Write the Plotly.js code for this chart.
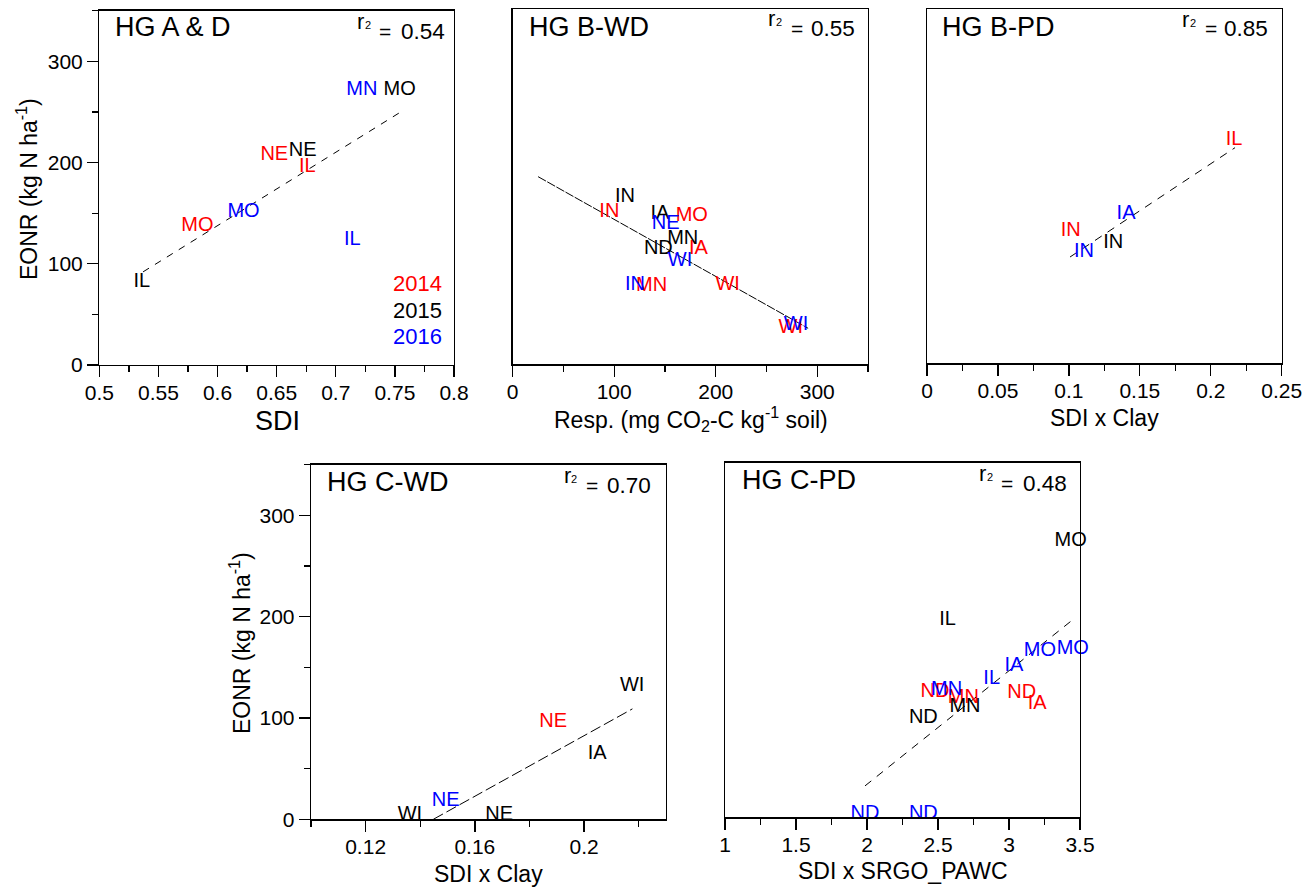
<!DOCTYPE html>
<html>
<head>
<meta charset="utf-8">
<script src="https://cdn.plot.ly/plotly-3.0.1.min.js"></script>
<style>
  html, body { margin: 0; padding: 0; background: #ffffff; }
  #chart { width: 1308px; height: 888px; }
</style>
</head>
<body>
<div id="chart"></div>
<script>
// ---- HG A & D : EONR vs SDI ----
const adLabels = ['IL', 'MO', 'MO', 'NE', 'NE', 'IL', 'MN', 'MO', 'IL'];
const adYears  = [2015, 2014, 2016, 2014, 2015, 2014, 2016, 2015, 2016];
const adSDI    = [0.536, 0.583, 0.622, 0.648, 0.672, 0.676, 0.722, 0.754, 0.714];
const adEONR   = [82, 137, 151, 207, 211, 196, 272, 272, 123];
const adFitX   = [0.537, 0.755];
const adFitY   = [92, 250];

// ---- HG B-WD : EONR vs soil respiration ----
const bwdLabels = ['IN', 'IN', 'IA', 'MO', 'NE', 'MN', 'ND', 'IA', 'WI', 'IN', 'MN', 'WI', 'WI', 'WI'];
const bwdYears  = [2015, 2014, 2015, 2014, 2016, 2015, 2015, 2014, 2016, 2016, 2014, 2014, 2014, 2016];
const bwdResp   = [110.6, 95.2, 145.1, 176.4, 150.7, 167.5, 143.5, 182.9, 164.8, 120.5, 136.9, 211.8, 273.9, 279.1];
const bwdEONR   = [165, 150, 148, 146, 138, 124, 114, 114, 102, 78, 77, 78, 36, 39];
const bwdFitX   = [25, 291];
const bwdFitY   = [185, 35.5];

// ---- HG B-PD : EONR vs SDI x Clay ----
const bpdLabels = ['IL', 'IA', 'IN', 'IN', 'IN'];
const bpdYears  = [2014, 2016, 2014, 2015, 2016];
const bpdSDIxClay = [0.2164, 0.1403, 0.1013, 0.1313, 0.1107];
const bpdEONR   = [221, 147, 131, 118.5, 110];
const bpdFitX   = [0.1008, 0.2171];
const bpdFitY   = [105, 213];

// ---- HG C-WD : EONR vs SDI x Clay ----
const cwdLabels = ['WI', 'NE', 'IA', 'NE', 'WI', 'NE'];
const cwdYears  = [2015, 2014, 2015, 2016, 2015, 2015];
const cwdSDIxClay = [0.2176, 0.1887, 0.2048, 0.1493, 0.1362, 0.1689];
const cwdEONR   = [132, 96, 64, 18, 4, 4];
const cwdFitX   = [0.1448, 0.2177];
const cwdFitY   = [0, 109];

// ---- HG C-PD : EONR vs SDI x SRGO_PAWC ----
const cpdLabels = ['MO', 'IL', 'MO', 'MO', 'IA', 'IL', 'ND', 'IA', 'ND', 'MN', 'MN', 'MN', 'ND', 'ND', 'ND'];
const cpdYears  = [2015, 2015, 2016, 2016, 2016, 2016, 2014, 2014, 2014, 2016, 2014, 2015, 2015, 2016, 2016];
const cpdSDIxPAWC = [3.434, 2.568, 3.449, 3.218, 3.035, 2.878, 3.089, 3.199, 2.479, 2.561, 2.678, 2.69, 2.397, 1.986, 2.397];
const cpdEONR   = [273, 195, 166, 164, 149, 136, 123, 112, 124, 126, 117.5, 109, 98, 3, 3];
const cpdFitX   = [1.986, 3.449];
const cpdFitY   = [31, 195];

// ---- panel text ----
const panelNames = ['HG A & D', 'HG B-WD', 'HG B-PD', 'HG C-WD', 'HG C-PD'];
const r2Values   = ['0.54', '0.55', '0.85', '0.70', '0.48'];
const yearList   = [2014, 2015, 2016];

// ---- styling ----
const W = 1308, H = 888;
const FONT = 'Liberation Sans, Arial, Helvetica, sans-serif';
const yearColor = { 2014: '#ff0000', 2015: '#000000', 2016: '#0000ff' };
const px = v => v / W;
const py = v => 1 - v / H;

// state-abbreviation labels, one trace per year
function labelTraces(axN, labels, xs, ys, years) {
  const sfx = axN === 1 ? '' : String(axN);
  return yearList.map(yr => {
    const idx = years.map((y, i) => (y === yr ? i : -1)).filter(i => i >= 0);
    return {
      type: 'scatter', mode: 'text',
      x: idx.map(i => xs[i]), y: idx.map(i => ys[i]), text: idx.map(i => labels[i]),
      textposition: 'middle center',
      textfont: { family: FONT, size: 20, color: yearColor[yr] },
      cliponaxis: false, hoverinfo: 'skip', showlegend: false,
      xaxis: 'x' + sfx, yaxis: 'y' + sfx
    };
  });
}

function fitTrace(axN, xs, ys, dash) {
  const sfx = axN === 1 ? '' : String(axN);
  return {
    type: 'scatter', mode: 'lines', x: xs, y: ys,
    line: { color: '#000000', width: 1, dash: dash },
    hoverinfo: 'skip', showlegend: false, cliponaxis: false,
    xaxis: 'x' + sfx, yaxis: 'y' + sfx
  };
}

const traces = [].concat(
  fitTrace(1, adFitX, adFitY, '7px,7px'),
  labelTraces(1, adLabels, adSDI, adEONR, adYears),
  fitTrace(2, bwdFitX, bwdFitY, '9px,1.5px'),
  labelTraces(2, bwdLabels, bwdResp, bwdEONR, bwdYears),
  fitTrace(3, bpdFitX, bpdFitY, '8px,7px'),
  labelTraces(3, bpdLabels, bpdSDIxClay, bpdEONR, bpdYears),
  fitTrace(4, cwdFitX, cwdFitY, '11px,4px'),
  labelTraces(4, cwdLabels, cwdSDIxClay, cwdEONR, cwdYears),
  fitTrace(5, cpdFitX, cpdFitY, '8px,7px'),
  labelTraces(5, cpdLabels, cpdSDIxPAWC, cpdEONR, cpdYears)
);

const tickStyle = { ticks: 'outside', ticklen: 11, tickwidth: 1.3, tickcolor: '#000' };
function xAxis(left, right, range, tick0, dtick, minor0, minorDtick, anchor) {
  return Object.assign({
    domain: [px(left), px(right)], range: range, anchor: anchor,
    showgrid: false, zeroline: false, showline: true, mirror: true,
    linecolor: '#000', linewidth: 1.3,
    tick0: tick0, dtick: dtick,
    minor: { tick0: minor0, dtick: minorDtick, ticks: 'outside', ticklen: 6, tickwidth: 1.3, tickcolor: '#000', showgrid: false },
    tickfont: { family: FONT, size: 21, color: '#000' },
    ticklabelstandoff: -3,
    fixedrange: true
  }, tickStyle);
}
function yAxis(top, bottom, anchor, labelled) {
  const ax = {
    domain: [py(bottom), py(top)], range: [0, 350], anchor: anchor,
    showgrid: false, zeroline: false, showline: true, mirror: true,
    linecolor: '#000', linewidth: 1.3, fixedrange: true
  };
  if (labelled) {
    Object.assign(ax, tickStyle, {
      tick0: 0, dtick: 100,
      minor: { tick0: 0, dtick: 50, ticks: 'outside', ticklen: 6, tickwidth: 1.3, tickcolor: '#000', showgrid: false },
      tickfont: { family: FONT, size: 21, color: '#000' }
    });
  } else {
    Object.assign(ax, { ticks: '', showticklabels: false });
  }
  return ax;
}

function txt(x, y, text, size, opts) {
  return Object.assign({
    xref: 'paper', yref: 'paper', x: px(x), y: py(y), text: text,
    showarrow: false, xanchor: 'center', yanchor: 'middle',
    font: { family: FONT, size: size, color: '#000' }
  }, opts || {});
}
// "r2 = value" box: raised r with a small 2, then "=" and the value
function r2Label(rLeft, eqLeft, valRight, yc, val) {
  return [
    txt(rLeft, yc - 9.9, 'r', 22, { xanchor: 'left' }),
    txt(rLeft + 7.5, yc - 6, '2', 11, { xanchor: 'left' }),
    txt(eqLeft, yc, '=', 21, { xanchor: 'left' }),
    txt(valRight, yc, val, 22.5, { xanchor: 'right' })
  ];
}

const yTitle = 'EONR (kg N ha<sup>-1</sup>)';
const annotations = [].concat(
  // panel names
  txt(113, 27, panelNames[0], 27, { xanchor: 'left' }),
  txt(526.5, 27, panelNames[1], 27, { xanchor: 'left' }),
  txt(939.5, 27, panelNames[2], 27, { xanchor: 'left' }),
  txt(325, 482, panelNames[3], 27, { xanchor: 'left' }),
  txt(739.5, 480, panelNames[4], 27, { xanchor: 'left' }),
  // r2 boxes
  r2Label(355, 376.5, 447, 31, r2Values[0]),
  r2Label(766.5, 789, 857, 28, r2Values[1]),
  r2Label(1180, 1202.5, 1269.5, 29, r2Values[2]),
  r2Label(561.5, 584, 652.5, 485, r2Values[3]),
  r2Label(977, 999, 1068.5, 483, r2Values[4]),
  // year key
  txt(444, 283, String(yearList[0]), 22, { xanchor: 'right', font: { family: FONT, size: 22, color: yearColor[2014] } }),
  txt(444, 310, String(yearList[1]), 22, { xanchor: 'right', font: { family: FONT, size: 22, color: yearColor[2015] } }),
  txt(444, 337, String(yearList[2]), 22, { xanchor: 'right', font: { family: FONT, size: 22, color: yearColor[2016] } }),
  // axis titles
  txt(277, 421, 'SDI', 27),
  txt(690.5, 419, 'Resp. (mg CO<sub>2</sub>-C kg<sup>-1</sup> soil)', 23),
  txt(1104, 418, 'SDI x Clay', 23),
  txt(488.5, 874, 'SDI x Clay', 23),
  txt(902.5, 871, 'SDI x SRGO_PAWC', 23),
  txt(27, 189, yTitle, 23, { textangle: -90 }),
  txt(240, 643, yTitle, 23, { textangle: -90 })
);

const layout = {
  width: W, height: H,
  margin: { l: 0, r: 0, t: 0, b: 0, pad: 0 },
  paper_bgcolor: '#ffffff', plot_bgcolor: '#ffffff',
  showlegend: false,
  font: { family: FONT, color: '#000' },
  xaxis:  xAxis(99.3, 454, [0.5, 0.8], 0.5, 0.05, 0.5, 0.025, 'y'),
  yaxis:  yAxis(10.7, 365, 'x', true),
  xaxis2: xAxis(512.7, 868, [0, 350], 0, 100, 0, 50, 'y2'),
  yaxis2: yAxis(9.3, 364.3, 'x2', false),
  xaxis3: xAxis(927, 1281.7, [0, 0.25], 0, 0.05, 0, 0.025, 'y3'),
  yaxis3: yAxis(9, 363.3, 'x3', false),
  xaxis4: xAxis(311, 666, [0.10, 0.23], 0.12, 0.04, 0.10, 0.02, 'y4'),
  yaxis4: yAxis(464.7, 819.3, 'x4', true),
  xaxis5: xAxis(725, 1080, [1, 3.5], 1, 0.5, 1, 0.25, 'y5'),
  yaxis5: yAxis(462.7, 817.3, 'x5', false),
  annotations: annotations
};

Plotly.newPlot('chart', traces, layout, { displayModeBar: false, staticPlot: true });
</script>
</body>
</html>
